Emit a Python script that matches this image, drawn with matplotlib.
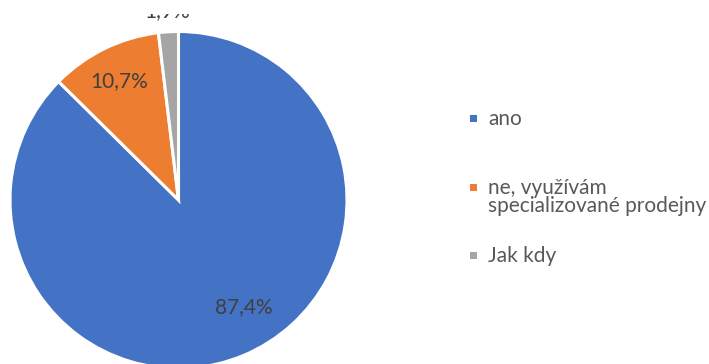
import matplotlib

matplotlib.use("Agg")
import matplotlib.pyplot as plt
from matplotlib.patches import Rectangle
from matplotlib.transforms import Bbox

plt.rcParams["font.family"] = ["Lato", "DejaVu Sans"]

# data
labels = ["ano", "ne, využívám\nspecializované prodejny", "Jak kdy"]
shares = [87.4, 10.7, 1.9]
colors = ["#4472C4", "#ED7D31", "#A5A5A5"]

W, H = 709, 364
# everything below is laid out in pixels, measured from the top edge
pct_pos = [(244, 313), (119, 87), (167, 17)]
legend_y = [118, 187, 255]

fig = plt.figure(figsize=(W / 100, H / 100), dpi=100)
ax = fig.add_axes([0, 0, 1, 1])

cx, cy, r = 178.5, H - 200, 168.5
wedges, _ = ax.pie(shares, colors=colors, startangle=90, counterclock=False,
                   center=(cx, cy), radius=r, frame=True,
                   wedgeprops=dict(edgecolor="white", linewidth=2.2))
ax.set_xlim(0, W)
ax.set_ylim(0, H)
ax.axis("off")

# the top strip of the chart is cut away, hiding most of the small label
top_clip = Bbox([[0, 0], [W, H - 14]])
for v, (px, py) in zip(shares, pct_pos):
    t = ax.text(px, H - py, f"{v:.1f}".replace(".", ",") + "%",
                ha="center", va="baseline", fontsize=15, color="#404040")
    t.set_clip_box(top_clip)
    t.set_clip_on(True)

# legend on the right
lx = 473
for lab, c, y in zip(labels, colors, legend_y):
    ax.add_patch(Rectangle((lx - 3.5, H - y - 3.5), 7, 7, facecolor=c,
                           edgecolor="none"))
    for i, line in enumerate(lab.split("\n")):
        ax.text(lx + 15, H - (y + 7 + 18.5 * i), line, ha="left",
                va="baseline", fontsize=15, color="#595959")

fig.savefig("out.png", dpi=100, facecolor="white")
